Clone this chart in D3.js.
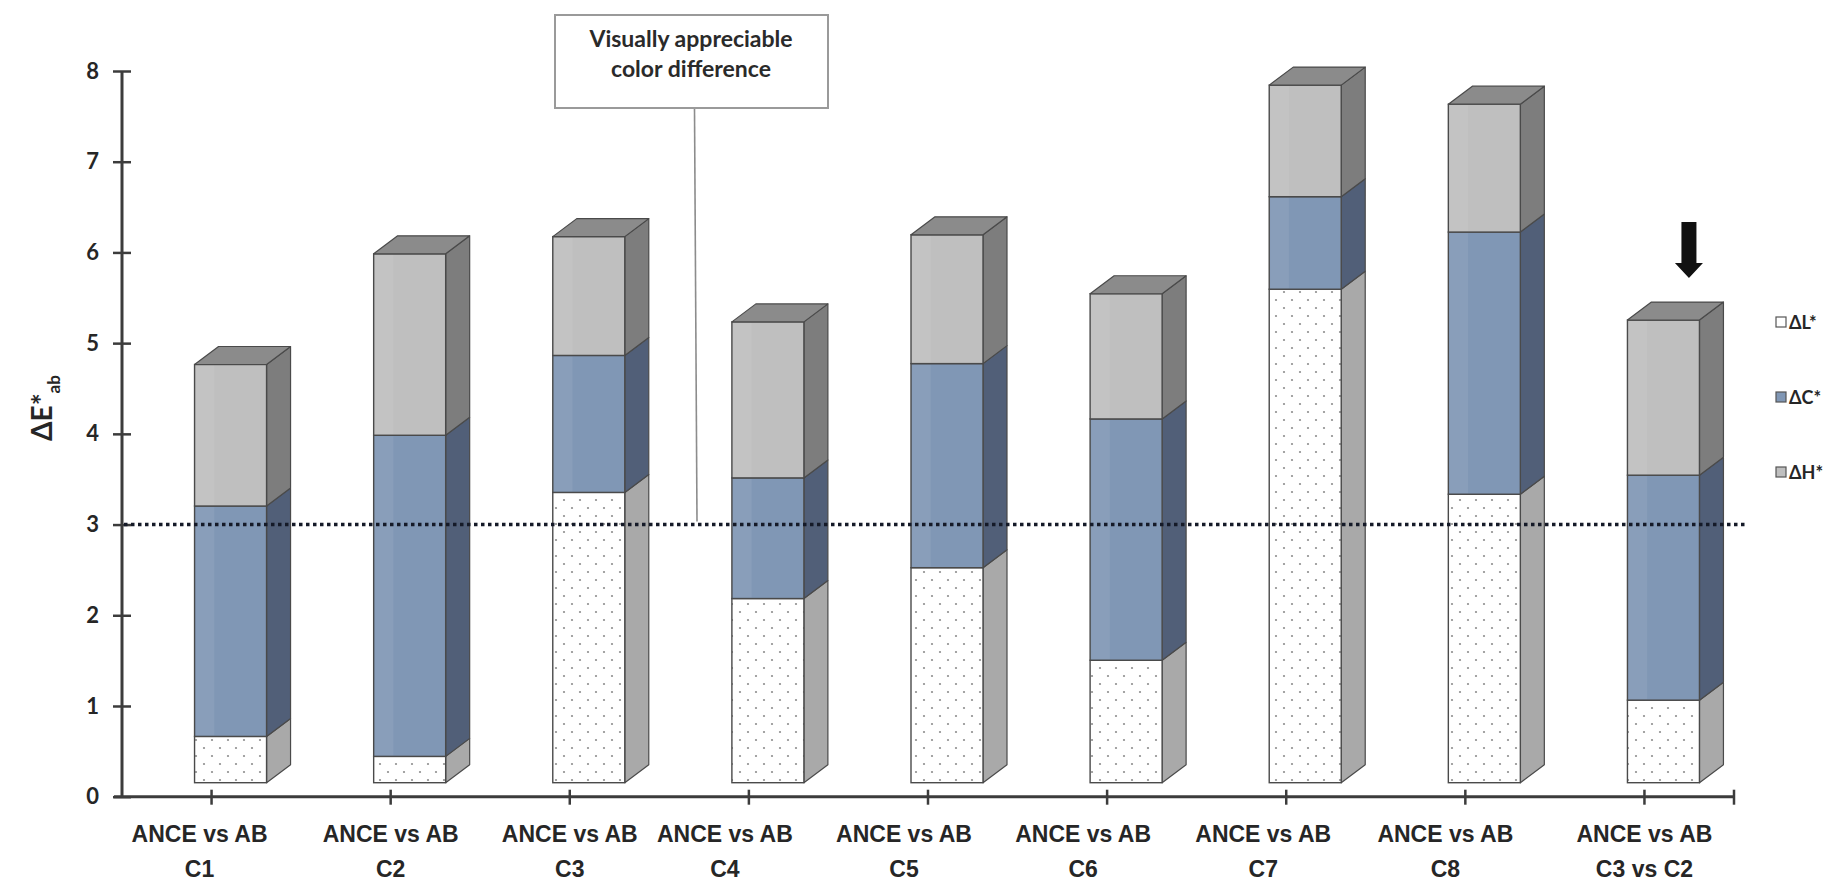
<!DOCTYPE html>
<html>
<head>
<meta charset="utf-8">
<script src="https://cdn.jsdelivr.net/npm/d3@7"></script>
<style>
  body { margin: 0; background: #fff; }
  svg { display: block; font-family: Lato, "Open Sans", sans-serif; }
</style>
</head>
<body>
<svg id="chart" width="1839" height="882"></svg>
<script>
// ---- data ----
const comparison = "ANCE vs AB";
const categories = ["C1", "C2", "C3", "C4", "C5", "C6", "C7", "C8", "C3 vs C2"];
const deltaL = [0.51, 0.29, 3.20, 2.03, 2.37, 1.35, 5.44, 3.18, 0.91];
const deltaC = [2.54, 3.54, 1.51, 1.33, 2.25, 2.66, 1.02, 2.89, 2.48];
const deltaH = [1.56, 2.00, 1.31, 1.72, 1.42, 1.38, 1.23, 1.41, 1.71];
const seriesNames = ["ΔL*", "ΔC*", "ΔH*"];
const yTicks = [0, 1, 2, 3, 4, 5, 6, 7, 8];
const threshold = 3;
const annotationLines = ["Visually appreciable", "color difference"];
const highlighted = "C3 vs C2";

// ---- layout ----
const labelShift = [-12, 0, 0, -24, -24, -24, -23, -20, 0];
const faceW = 72, depthX = 24, depthY = 18, lift = 14, shiftX = 19;

const svg = d3.select("#chart");
const defs = svg.append("defs");

const dots = defs.append("pattern")
  .attr("id", "dots").attr("patternUnits", "userSpaceOnUse")
  .attr("width", 16).attr("height", 16);
dots.append("rect").attr("width", 16).attr("height", 16).attr("fill", "#fff");
dots.append("circle").attr("cx", 4).attr("cy", 4).attr("r", 1.1).attr("fill", "#8e8e8e");
dots.append("circle").attr("cx", 12).attr("cy", 12).attr("r", 1.1).attr("fill", "#8e8e8e");

const x = d3.scaleBand().domain(categories).range([122, 1734]);
const y = d3.scaleLinear().domain([0, 8]).range([796.7, 71]);

const keys = ["L", "C", "H"];
const rows = categories.map((c, i) => ({ cat: c, L: deltaL[i], C: deltaC[i], H: deltaH[i] }));
const stacked = d3.stack().keys(keys)(rows);

const look = {
  L: { front: "url(#dots)", side: "#a9a9a9", legend: "#ffffff" },
  C: { front: "#8097b5", side: "#515f78", legend: "#8097b5" },
  H: { front: "#bfbfbf", side: "#7d7d7d", legend: "#bfbfbf" }
};
const edge = "#4a4a4a";

// ---- 3D stacked columns ----
const barsG = svg.append("g");
categories.forEach((cat, i) => {
  const fx = x(cat) + x.bandwidth() / 2 + shiftX - faceW / 2;
  const g = barsG.append("g");
  let topY = null;
  stacked.forEach(layer => {
    const k = layer.key;
    const seg = layer[i];
    const top = y(seg[1]) - lift, bottom = y(seg[0]) - lift;
    const rx = fx + faceW;
    g.append("path")
      .attr("d", `M${rx},${bottom}L${rx + depthX},${bottom - depthY}L${rx + depthX},${top - depthY}L${rx},${top}Z`)
      .attr("fill", look[k].side).attr("stroke", edge).attr("stroke-width", 1.2)
      .attr("stroke-linejoin", "round");
    g.append("rect")
      .attr("x", fx).attr("y", top).attr("width", faceW).attr("height", bottom - top)
      .attr("fill", look[k].front).attr("stroke", edge).attr("stroke-width", 1.4);
    if (k !== "L") {
      g.append("rect")
        .attr("x", fx + 1).attr("y", top + 1).attr("width", faceW * 0.26).attr("height", Math.max(0, bottom - top - 2))
        .attr("fill", "#fff").attr("opacity", 0.07);
    }
    topY = top;
  });
  g.append("path")
    .attr("d", `M${fx},${topY}L${fx + depthX},${topY - depthY}L${fx + faceW + depthX},${topY - depthY}L${fx + faceW},${topY}Z`)
    .attr("fill", "#8b8b8b").attr("stroke", edge).attr("stroke-width", 1.2)
    .attr("stroke-linejoin", "round");

  if (cat === highlighted) {
    const cx = fx + faceW / 2 + 25.5;
    const tip = topY - depthY - 24;
    const headTop = tip - 15, shaftTop = tip - 56;
    svg.append("path")
      .attr("d", `M${cx - 7.5},${shaftTop}L${cx + 7.5},${shaftTop}L${cx + 7.5},${headTop}L${cx + 14},${headTop}L${cx},${tip}L${cx - 14},${headTop}L${cx - 7.5},${headTop}Z`)
      .attr("fill", "#111");
  }
});

// ---- axes ----
const axisColor = "#3c3c3c";
const yAxis = svg.append("g").attr("transform", "translate(122,0)")
  .call(d3.axisLeft(y).tickValues(yTicks).tickFormat(d3.format("d")).tickSize(9).tickPadding(14));
yAxis.select(".domain").remove();
yAxis.selectAll(".tick line").attr("x1", -9).attr("x2", 9).attr("stroke", axisColor).attr("stroke-width", 2.5);
yAxis.selectAll(".tick text")
  .attr("font-size", 22).attr("font-weight", 700).attr("fill", "#262626")
  .attr("font-family", "Lato, sans-serif");
svg.append("line").attr("x1", 122).attr("x2", 122).attr("y1", y(8)).attr("y2", y(0))
  .attr("stroke", axisColor).attr("stroke-width", 3);

const xAxis = svg.append("g").attr("transform", `translate(0,${y(0)})`)
  .call(d3.axisBottom(x).tickSize(0).tickFormat(""));
xAxis.select(".domain").remove();
xAxis.selectAll(".tick line").attr("y1", -7).attr("y2", 8).attr("stroke", axisColor).attr("stroke-width", 2.5);
svg.append("line").attr("x1", 114).attr("x2", x.range()[1]).attr("y1", y(0)).attr("y2", y(0))
  .attr("stroke", axisColor).attr("stroke-width", 3);
svg.append("line").attr("x1", x.range()[1]).attr("x2", x.range()[1]).attr("y1", y(0) - 7).attr("y2", y(0) + 8)
  .attr("stroke", axisColor).attr("stroke-width", 2.5);

xAxis.selectAll(".tick").each(function (d, i) {
  const t = d3.select(this).append("text")
    .attr("text-anchor", "middle").attr("fill", "#262626")
    .attr("font-size", 23).attr("font-weight", 700)
    .attr("transform", `translate(${labelShift[i]},0)`);
  t.append("tspan").attr("x", 0).attr("y", 45).text(comparison);
  t.append("tspan").attr("x", 0).attr("y", 80).text(d);
});

// y-axis title
const yt = svg.append("text")
  .attr("transform", "translate(52,408) rotate(-90)")
  .attr("text-anchor", "middle").attr("font-weight", 700).attr("fill", "#262626");
yt.append("tspan").attr("font-size", 28).text("ΔE*");
yt.append("tspan").attr("font-size", 17).attr("dy", 8).text("ab");

// ---- threshold line and annotation ----
const ty = y(threshold);
svg.append("line")
  .attr("x1", 124).attr("x2", 1745).attr("y1", ty).attr("y2", ty)
  .attr("stroke", "#151a28").attr("stroke-width", 3.4).attr("stroke-dasharray", "3.5,3.5");

svg.append("line")
  .attr("x1", 694.5).attr("y1", 108).attr("x2", 697).attr("y2", ty - 3)
  .attr("stroke", "#8c8c8c").attr("stroke-width", 1.6);
svg.append("rect")
  .attr("x", 555).attr("y", 15).attr("width", 273).attr("height", 93)
  .attr("fill", "#fff").attr("stroke", "#9a9a9a").attr("stroke-width", 2);
annotationLines.forEach((line, i) => {
  svg.append("text")
    .attr("x", 691).attr("y", 47 + i * 30)
    .attr("text-anchor", "middle").attr("font-size", 23).attr("font-weight", 700)
    .attr("fill", "#2a2a2a").text(line);
});

// ---- legend ----
const legend = svg.append("g");
keys.forEach((k, i) => {
  const ly = 322 + i * 75;
  legend.append("rect")
    .attr("x", 1776).attr("y", ly - 5).attr("width", 10).attr("height", 10)
    .attr("fill", look[k].legend).attr("stroke", "#555").attr("stroke-width", 1.2);
  legend.append("text")
    .attr("x", 1789).attr("y", ly + 6.5)
    .attr("font-size", 18).attr("font-weight", 700).attr("fill", "#262626")
    .text(seriesNames[i]);
});
</script>
</body>
</html>
